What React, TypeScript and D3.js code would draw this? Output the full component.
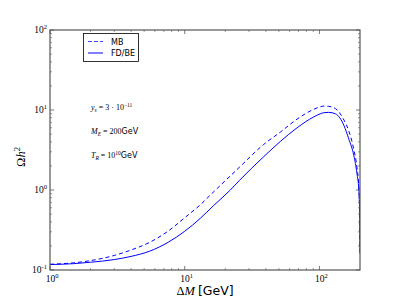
import * as React from 'react';
import * as d3 from 'd3';

// mass splitting Delta M [GeV]
const deltaM = [1, 1.5, 2, 3, 4, 5.5, 7.6, 10, 13, 16.4, 21.8, 25.5, 38.5, 51.3, 68.3, 90.7, 102, 108, 117, 131.5, 152, 165, 180, 190, 196, 198.5, 199.9];
// Omega h^2, Maxwell-Boltzmann
const omegaMB = [0.118, 0.123, 0.131, 0.152, 0.178, 0.222, 0.31, 0.45, 0.65, 0.95, 1.5, 1.93, 3.7, 5.3, 7.7, 10.2, 11.0, 11.2, 11.1, 10.4, 7.5, 5.5, 3.2, 1.9, 1.1, 0.6, 0.17];
// Omega h^2, Fermi-Dirac / Bose-Einstein
const omegaFD = [0.117, 0.12, 0.125, 0.135, 0.148, 0.172, 0.224, 0.305, 0.44, 0.64, 1.0, 1.32, 2.6, 4.05, 6.0, 8.2, 9.0, 9.25, 9.35, 8.96, 6.4, 4.36, 2.7, 1.6, 1.0, 0.55, 0.16];

const xMajor = [1, 10, 100];
const xExp = ['0', '1', '2'];
const yMajor = [0.1, 1, 10, 100];
const yExp = ['-1', '0', '1', '2'];

const W = 400, H = 300;
const m = { left: 50, right: 360, top: 30, bottom: 270 };

const mathFont = '"Liberation Serif", serif';
const sansFont = '"DejaVu Sans", sans-serif';

function minors(lo: number, hi: number) {
    const out: number[] = [];
    for (let dec = lo; dec < hi; dec *= 10) {
        for (let k = 2; k < 10; k++) {
            const v = dec * k;
            if (v < hi) out.push(v);
        }
    }
    return out;
}

export default function App() {
    const x = d3.scaleLog().domain([1, 200]).range([m.left, m.right]);
    const y = d3.scaleLog().domain([0.1, 100]).range([m.bottom, m.top]);

    const line = d3.line<number>()
        .x((_, i) => x(deltaM[i]))
        .y(d => y(d))
        .curve(d3.curveMonotoneX);

    const axisCol = '#555';
    const majLen = 4, minLen = 2;
    const xMin = minors(1, 200);
    const yMin = minors(0.1, 100);

    return (
        <svg width={W} height={H} style={{ position: 'absolute', left: 0, top: 0, background: '#fff' }}>
            <rect x={0} y={0} width={W} height={H} fill="#fff" />
            <defs>
                <clipPath id="clip">
                    <rect x={m.left} y={m.top} width={m.right - m.left} height={m.bottom - m.top} />
                </clipPath>
            </defs>
            <g clipPath="url(#clip)">
                <path d={line(omegaMB)!} fill="none" stroke="#0000ff" strokeWidth={1} strokeDasharray="4,3" />
                <path d={line(omegaFD)!} fill="none" stroke="#0000ff" strokeWidth={1} />
            </g>

            {/* frame */}
            <rect x={m.left} y={m.top} width={m.right - m.left} height={m.bottom - m.top} fill="none" stroke={axisCol} strokeWidth={1.2} />

            {/* x ticks */}
            {xMajor.map(v => (
                <g key={'xM' + v} stroke={axisCol} strokeWidth={0.8}>
                    <line x1={x(v)} x2={x(v)} y1={m.bottom} y2={m.bottom - majLen} />
                    <line x1={x(v)} x2={x(v)} y1={m.top} y2={m.top + majLen} />
                </g>
            ))}
            {xMin.map(v => (
                <g key={'xm' + v} stroke={axisCol} strokeWidth={0.6}>
                    <line x1={x(v)} x2={x(v)} y1={m.bottom} y2={m.bottom - minLen} />
                    <line x1={x(v)} x2={x(v)} y1={m.top} y2={m.top + minLen} />
                </g>
            ))}
            {/* y ticks */}
            {yMajor.map(v => (
                <g key={'yM' + v} stroke={axisCol} strokeWidth={0.8}>
                    <line x1={m.left} x2={m.left + majLen} y1={y(v)} y2={y(v)} />
                    <line x1={m.right} x2={m.right - majLen} y1={y(v)} y2={y(v)} />
                </g>
            ))}
            {yMin.map(v => (
                <g key={'ym' + v} stroke={axisCol} strokeWidth={0.6}>
                    <line x1={m.left} x2={m.left + minLen} y1={y(v)} y2={y(v)} />
                    <line x1={m.right} x2={m.right - minLen} y1={y(v)} y2={y(v)} />
                </g>
            ))}

            {/* tick labels */}
            {xMajor.map((v, i) => (
                <text key={'xl' + v} x={x(v) + 2} y={m.bottom + 12} textAnchor="middle" fontFamily={mathFont} fontSize={9.5} fill="#000">
                    10<tspan dy={-4} fontSize={6.5}>{xExp[i]}</tspan>
                </text>
            ))}
            {yMajor.map((v, i) => (
                <text key={'yl' + v} x={m.left - 3} y={y(v) + 3} textAnchor="end" fontFamily={mathFont} fontSize={9.5} fill="#000">
                    10<tspan dy={-4} fontSize={6.5}>{yExp[i]}</tspan>
                </text>
            ))}

            {/* axis labels */}
            <text x={205} y={295} textAnchor="middle" fontSize={12.5} fill="#000">
                <tspan fontFamily={mathFont}>Δ</tspan>
                <tspan fontFamily={mathFont} fontStyle="italic">M</tspan>
                <tspan fontFamily={sansFont} dx={3}>[GeV]</tspan>
            </text>
            <text transform="translate(25,157) rotate(-90)" textAnchor="middle" fontFamily={mathFont} fontSize={12.5} fill="#000">
                Ω<tspan fontStyle="italic">h</tspan><tspan dy={-5} fontSize={8.5}>2</tspan>
            </text>

            {/* legend */}
            <rect x={83.5} y={33.5} width={55} height={28} fill="#fff" stroke="#000" strokeWidth={0.8} />
            <line x1={88} x2={103} y1={41.5} y2={41.5} stroke="#4444ff" strokeWidth={1} strokeDasharray="4,2" />
            <text x={111} y={44.5} fontFamily={sansFont} fontSize={8} fill="#000">MB</text>
            <line x1={88} x2={103} y1={53} y2={53} stroke="#0000ff" strokeWidth={1} />
            <text x={111} y={56} fontFamily={sansFont} fontSize={8} fill="#000">FD/BE</text>

            {/* annotations */}
            <text x={91} y={110} fontSize={8} fill="#000" fontFamily={mathFont}>
                <tspan fontStyle="italic">y</tspan><tspan dy={1.5} fontSize={5.5} fontStyle="italic">s</tspan>
                <tspan dy={-1.5}> = 3 · 10</tspan><tspan dy={-3.5} fontSize={5.5}>−11</tspan>
            </text>
            <text x={91} y={134} fontSize={8} fill="#000" fontFamily={mathFont}>
                <tspan fontStyle="italic">M</tspan><tspan dy={1.5} fontSize={5.5} fontStyle="italic">E</tspan>
                <tspan dy={-1.5}> = 200</tspan><tspan fontFamily={sansFont}>GeV</tspan>
            </text>
            <text x={91} y={158} fontSize={8} fill="#000" fontFamily={mathFont}>
                <tspan fontStyle="italic">T</tspan><tspan dy={1.5} fontSize={5.5} fontStyle="italic">R</tspan>
                <tspan dy={-1.5}> = 10</tspan><tspan dy={-3.5} fontSize={5.5}>10</tspan>
                <tspan dy={3.5} fontFamily={sansFont}>GeV</tspan>
            </text>
        </svg>
    );
}
